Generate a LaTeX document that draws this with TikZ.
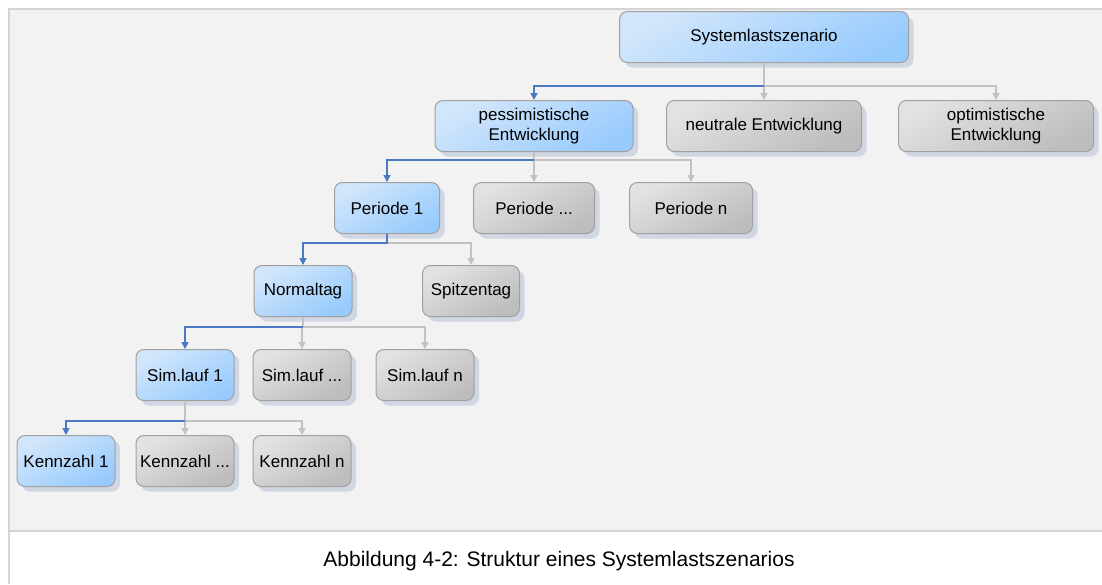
\documentclass[tikz,border=0pt]{standalone}
\usepackage{fontspec}
\setmainfont{Liberation Sans}
\usetikzlibrary{arrows.meta,shadows}
\definecolor{panel}{HTML}{F2F2F2}
\definecolor{frameline}{HTML}{D4D4D4}
\definecolor{boxline}{HTML}{A0A0A0}
\definecolor{shadowcol}{HTML}{D0D7E3}
\definecolor{bluelight}{HTML}{D2E6FB}
\definecolor{bluemid}{HTML}{A6D1FC}
\definecolor{bluedark}{HTML}{98CBFD}
\definecolor{graylight}{HTML}{E2E2E4}
\definecolor{graymid}{HTML}{CACACB}
\definecolor{graydark}{HTML}{BDBDBD}
\definecolor{conblue}{HTML}{4A78C4}
\definecolor{congray}{HTML}{C2C2C2}
\tikzset{
  box/.style={draw=boxline, line width=1pt, rounded corners=8pt,
    minimum height=51pt, inner sep=2pt, align=center,
    font=\fontsize{17}{20}\selectfont, text=black,
    drop shadow={shadow xshift=5pt, shadow yshift=-5pt, fill=shadowcol, opacity=1}},
  bluebox/.style={box, shading=axis, top color=bluelight, middle color=bluemid,
    bottom color=bluedark, shading angle=30},
  graybox/.style={box, shading=axis, top color=graylight, middle color=graymid,
    bottom color=graydark, shading angle=30},
  con/.style={line width=1.6pt, -{Triangle[width=7pt,length=7pt]}},
  graycon/.style={con, draw=congray, color=congray},
  bluecon/.style={con, draw=conblue, color=conblue},
}
\begin{document}
\begin{tikzpicture}[x=1pt,y=-1pt]
\useasboundingbox (0,0) rectangle (1102,584);
% framed panel
\fill[white] (0,0) rectangle (1102,584);
\fill[panel] (8,8) rectangle (1102,531);
\draw[frameline, line width=2pt] (1102,9) -- (9,9) -- (9,584);
\draw[frameline, line width=2pt] (9,531) -- (1102,531);

% tree
\node[bluebox, minimum width=289pt] (root) at (764,37) {Systemlastszenario};

\node[bluebox, minimum width=198pt] (pes) at (534,126) {pessimistische\\Entwicklung};
\node[graybox, minimum width=195pt] (neu) at (764,126) {neutrale Entwicklung};
\node[graybox, minimum width=195pt] (opt) at (996,126) {optimistische\\Entwicklung};

\node[bluebox, minimum width=105pt] (p1) at (387,208) {Periode 1};
\node[graybox, minimum width=121pt] (pd) at (534,208) {Periode ...};
\node[graybox, minimum width=123pt] (pn) at (691,208) {Periode n};

\node[bluebox, minimum width=98pt] (nt) at (303,291) {Normaltag};
\node[graybox, minimum width=97pt] (st) at (471,291) {Spitzentag};

\node[bluebox, minimum width=98pt] (s1) at (185,375) {Sim.lauf 1};
\node[graybox, minimum width=98pt] (sd) at (302,375) {Sim.lauf ...};
\node[graybox, minimum width=98pt] (sn) at (425,375) {Sim.lauf n};

\node[bluebox, minimum width=98pt] (k1) at (66,461) {Kennzahl 1};
\node[graybox, minimum width=98pt] (kd) at (185,461) {Kennzahl ...};
\node[graybox, minimum width=98pt] (kn) at (302,461) {Kennzahl n};

% connectors: grey branches first, blue path on top
\draw[graycon] (root.south) -- ++(0,23) -| (neu.north);
\draw[graycon] (root.south) -- ++(0,23) -| (opt.north);
\draw[bluecon] (root.south) ++(0,23) -| (pes.north);

\draw[graycon] (pes.south) -- ++(0,8) -| (pd.north);
\draw[graycon] (pes.south) -- ++(0,8) -| (pn.north);
\draw[bluecon] (pes.south) ++(0,8) -| (p1.north);

\draw[graycon] (p1.south) -- ++(0,9) -| (st.north);
\draw[bluecon] (p1.south) -- ++(0,9) -| (nt.north);

\draw[graycon] (nt.south) -- ++(0,10) -| (sd.north);
\draw[graycon] (nt.south) -- ++(0,10) -| (sn.north);
\draw[bluecon] (nt.south) ++(0,10) -| (s1.north);

\draw[graycon] (s1.south) -- ++(0,20) -| (kd.north);
\draw[graycon] (s1.south) -- ++(0,20) -| (kn.north);
\draw[bluecon] (s1.south) ++(0,20) -| (k1.north);

% caption
\node[font=\fontsize{21}{24}\selectfont, text=black] (cap) at (559,561)
  {Abbildung 4-2: Struktur eines Systemlastszenarios};
\end{tikzpicture}
\end{document}
